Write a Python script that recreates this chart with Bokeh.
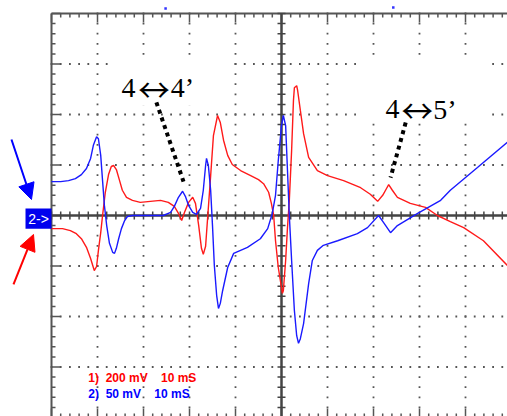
import numpy as np
from bokeh.plotting import figure
from bokeh.models import Range1d, Arrow, NormalHead, ColumnDataSource
from bokeh.core.properties import value
from bokeh.embed import file_html
from bokeh.resources import INLINE

# time in divisions (10 ms/div), amplitude in divisions (ch1 200 mV/div, ch2 50 mV/div)
red_t = [0.00, 0.24, 0.41, 0.54, 0.65, 0.76, 0.85, 0.91, 0.93, 0.98, 1.02, 1.07, 1.11, 1.17, 1.24,
         1.30, 1.35, 1.41, 1.48, 1.54, 1.63, 1.76, 1.93, 2.15, 2.37, 2.54, 2.67, 2.76, 2.83, 2.89,
         2.98, 3.07, 3.13, 3.20, 3.26, 3.30, 3.35, 3.39, 3.46, 3.52, 3.61, 3.67, 3.74, 3.83, 3.93,
         4.11, 4.33, 4.50, 4.61, 4.72, 4.78, 4.83, 4.87, 4.93, 5.02, 5.04, 5.09, 5.13, 5.17, 5.22,
         5.26, 5.28, 5.33, 5.35, 5.41, 5.48, 5.59, 5.78, 6.00, 6.35, 6.72, 6.93, 7.09, 7.20, 7.28,
         7.33, 7.41, 7.52, 7.80, 8.13, 8.39, 8.67, 8.96, 9.39, 9.91]
red_v = [-0.26, -0.26, -0.30, -0.36, -0.46, -0.63, -0.85, -1.03, -1.09, -1.01, -0.69, -0.34, 0.00, 0.46, 0.81,
         0.97, 0.99, 0.91, 0.69, 0.50, 0.36, 0.30, 0.26, 0.28, 0.30, 0.26, 0.18, 0.04, -0.10, 0.06,
         0.26, 0.36, 0.24, -0.20, -0.65, -0.77, -0.61, -0.10, 0.79, 1.58, 1.98, 1.84, 1.49, 1.19, 1.01,
         0.89, 0.79, 0.71, 0.63, 0.46, 0.24, 0.00, -0.50, -1.03, -1.54, -1.49, -0.89, -0.24, 0.30, 1.29,
         2.28, 2.53, 2.57, 2.48, 2.08, 1.62, 1.15, 0.89, 0.79, 0.69, 0.55, 0.42, 0.28, 0.40, 0.53,
         0.61, 0.50, 0.36, 0.24, 0.16, 0.00, -0.12, -0.24, -0.50, -0.99]

blue_t = [0.00, 0.20, 0.37, 0.52, 0.65, 0.76, 0.85, 0.91, 0.98, 1.02, 1.07, 1.11, 1.15, 1.20, 1.26,
          1.33, 1.37, 1.41, 1.46, 1.52, 1.59, 1.65, 1.76, 2.15, 2.43, 2.59, 2.67, 2.76, 2.85, 2.91,
          2.98, 3.07, 3.15, 3.24, 3.30, 3.35, 3.37, 3.41, 3.46, 3.50, 3.54, 3.59, 3.63, 3.67, 3.72,
          3.83, 3.96, 4.26, 4.54, 4.70, 4.80, 4.87, 4.93, 5.00, 5.04, 5.09, 5.13, 5.17, 5.22, 5.28,
          5.33, 5.37, 5.41, 5.48, 5.59, 5.67, 5.78, 5.91, 6.22, 6.65, 6.87, 7.11, 7.22, 7.37, 7.52,
          7.96, 8.46, 8.67, 9.26, 9.91]
blue_v = [0.67, 0.67, 0.69, 0.73, 0.81, 0.93, 1.13, 1.39, 1.56, 1.52, 1.19, 0.69, 0.20, -0.20, -0.55,
          -0.73, -0.75, -0.65, -0.46, -0.26, -0.10, -0.02, 0.00, 0.00, 0.00, 0.06, 0.18, 0.36, 0.48, 0.38,
          0.20, 0.06, 0.02, 0.14, 0.50, 0.99, 1.13, 0.99, 0.50, -0.20, -0.99, -1.58, -1.84, -1.74, -1.49,
          -1.03, -0.75, -0.63, -0.46, -0.26, 0.04, 0.40, 1.09, 1.78, 1.98, 1.78, 0.89, 0.00, -0.89, -1.88,
          -2.38, -2.53, -2.44, -2.14, -1.35, -0.89, -0.69, -0.59, -0.50, -0.36, -0.24, 0.00, -0.14, -0.34, -0.20,
          0.04, 0.30, 0.50, 0.95, 1.45]

NB = "\u00a0"
legend_ch1 = "1)" + NB * 2 + "200" + NB + "mV" + NB * 4 + "10" + NB + "mS"
legend_ch2 = "2)" + NB * 2 + "50" + NB + "mV" + NB * 4 + "10" + NB + "mS"
marker_text = "2->"
arrow_char = "\u2194"

XMIN, XMAX = -1.1087, 9.913
YMIN, YMAX = -3.980, 4.257
p = figure(width=507, height=416, output_backend="svg", toolbar_location=None,
           x_range=Range1d(XMIN, XMAX), y_range=Range1d(YMIN, YMAX),
           x_axis_type=None, y_axis_type=None, min_border=0,
           outline_line_color=None, background_fill_color="white",
           border_fill_color="white")

# dotted graticule
minor_x = np.round(np.arange(0, 10.0, 0.2), 2)
minor_y = np.round(np.arange(-4.0, 4.01, 0.2), 2)
dx, dy = [], []
for gx in [1, 2, 3, 4, 6, 7, 8, 9]:
    for yy in minor_y:
        dx.append(gx); dy.append(yy)
for gy in [-3, -2, -1, 1, 2, 3]:
    for xx in minor_x:
        dx.append(xx); dy.append(gy)
p.scatter(dx, dy, marker="square", size=1.8, fill_color="#555555", line_color=None)

# white boxes behind annotations
p.quad(left=[1.28, 6.67], right=[3.93, 9.48], top=[3.13, 3.03], bottom=[2.18, 1.84],
       fill_color="white", line_color=None)

def is_major(v):
    f = np.abs(v) % 1
    return np.isclose(f, 0) | np.isclose(f, 1)

# borders
bc = "#555555"
p.line([0, 0], [4, -4], line_color=bc, line_width=2)
p.line([0, XMAX], [4, 4], line_color=bc, line_width=2)
top_len = np.where(is_major(minor_x), 0.178, 0.079)
p.segment(x0=minor_x, y0=4, x1=minor_x, y1=4 - top_len, line_color=bc, line_width=1.5)
p.segment(x0=minor_x, y0=-4, x1=minor_x, y1=-4 + top_len, line_color=bc, line_width=1.5)
left_len = np.where(is_major(minor_y), 0.196, 0.087)
p.segment(x0=0, y0=minor_y, x1=left_len, y1=minor_y, line_color=bc, line_width=1.5)

# center cross axes
cc = "#444444"
p.line([0, XMAX], [0, 0], line_color=cc, line_width=2.5)
p.line([5, 5], [-4, 4], line_color=cc, line_width=2.5)
p.segment(x0=minor_x, y0=-0.079, x1=minor_x, y1=0.079, line_color=cc, line_width=1.5)
p.segment(x0=4.913, y0=minor_y, x1=5.087, y1=minor_y, line_color=cc, line_width=1.5)

# small trigger marks above the top border
p.scatter([2.48, 7.43], [4.10, 4.12], marker="square", size=2.5, fill_color="#3333ff", line_color=None)

# traces
red_src = ColumnDataSource(dict(t=red_t, v=red_v))
blue_src = ColumnDataSource(dict(t=blue_t, v=blue_v))
p.line("t", "v", source=red_src, line_color="#ff1a1a", line_width=1.4)
p.line("t", "v", source=blue_src, line_color="#1a1aff", line_width=1.4)

# pointers
p.line([2.28, 2.87], [2.24, 0.67], line_color="black", line_width=4, line_dash="4 4")
p.line([7.70, 7.37], [1.84, 0.75], line_color="black", line_width=4, line_dash="4 4")

serif = value("Liberation Serif")
p.text(x=[1.52, 2.59], y=[2.53, 2.53], text=["4", "4\u2019"], text_font=serif,
       text_font_size="28px", text_color="black", text_align="left", text_baseline="alphabetic")
p.text(x=[7.26, 8.30], y=[2.10, 2.10], text=["4", "5\u2019"], text_font=serif,
       text_font_size="28px", text_color="black", text_align="left", text_baseline="alphabetic")
p.text(x=[2.23, 7.95], y=[2.53, 2.10], text=[arrow_char, arrow_char],
       text_font=value("Noto Sans CJK JP"), text_font_size="32px", text_color="black",
       text_align="center", text_baseline="alphabetic")

# channel marker and arrows
p.quad(left=[-0.565], right=[0], top=[0.139], bottom=[-0.26], fill_color="#0000ee", line_color=None)
p.text(x=[-0.28], y=[-0.06], text=[marker_text], text_font=value("Liberation Sans"),
       text_font_size="14px", text_color="white", text_align="center", text_baseline="middle")
p.add_layout(Arrow(end=NormalHead(size=16, fill_color="#0000ff", line_color="#0000ff"),
                   x_start=-0.870, y_start=1.505, x_end=-0.435, y_end=0.317,
                   line_color="#0000ff", line_width=2))
p.add_layout(Arrow(end=NormalHead(size=16, fill_color="#ff0000", line_color="#ff0000"),
                   x_start=-0.826, y_start=-1.366, x_end=-0.391, y_end=-0.376,
                   line_color="#ff0000", line_width=2))

# channel settings
p.text(x=[0.80], y=[-3.21], text=[legend_ch1], text_font=value("Liberation Sans"),
       text_font_style="bold", text_font_size="12px", text_color="#ff0000",
       text_align="left", text_baseline="middle")
p.text(x=[0.80], y=[-3.53], text=[legend_ch2], text_font=value("Liberation Sans"),
       text_font_style="bold", text_font_size="12px", text_color="#0000ff",
       text_align="left", text_baseline="middle")

open("out.html", "w").write(file_html(p, INLINE))
